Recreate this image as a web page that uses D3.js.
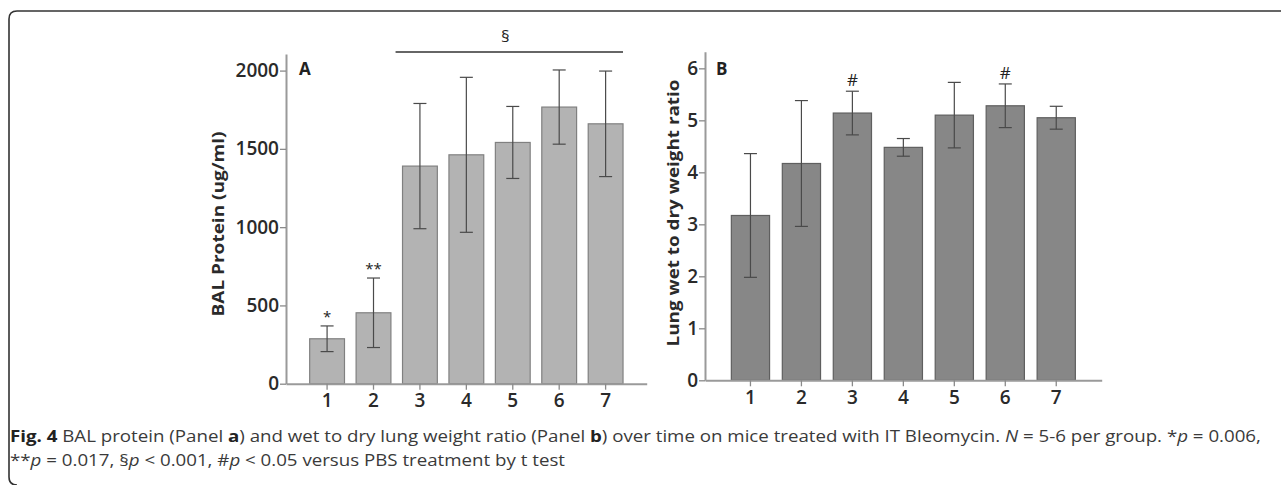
<!DOCTYPE html>
<html>
<head>
<meta charset="utf-8">
<script src="https://cdn.jsdelivr.net/npm/d3@7/dist/d3.min.js"></script>
<style>
  html, body { margin: 0; padding: 0; background: #fff; }
  svg { display: block; }
</style>
</head>
<body>
<svg id="chart" width="1281" height="485"></svg>
<script>
// ---- data ----
const categories = ["1", "2", "3", "4", "5", "6", "7"];
const balMean = [287, 453, 1390, 1462, 1541, 1767, 1660];
const balErr  = [82, 222, 400, 495, 230, 237, 337];
const balMarks = ["*", "**", "", "", "", "", ""];
const balTicks = [0, 500, 1000, 1500, 2000];

const ratioMean = [3.17, 4.17, 5.14, 4.48, 5.10, 5.28, 5.05];
const ratioErr  = [1.19, 1.21, 0.42, 0.17, 0.63, 0.42, 0.22];
const ratioMarks = ["", "", "#", "", "", "#", ""];
const ratioTicks = [0, 1, 2, 3, 4, 5, 6];

const balTitle = "BAL Protein (ug/ml)";
const ratioTitle = "Lung wet to dry weight ratio";

const svg = d3.select("#chart");
const FONT = "'Open Sans', 'DejaVu Sans', sans-serif";

// border (rounded frame)
svg.append("path")
  .attr("d", "M1285,11 L17,11 Q9,11 9,19 L9,477 Q9,485 17,485")
  .attr("fill", "none").attr("stroke", "#333").attr("stroke-width", 1.6);

function panel(opts) {
  const g = svg.append("g");
  const x = d3.scaleBand().domain(categories)
    .range([opts.x0, opts.x1]).paddingInner(opts.pi).paddingOuter(opts.po);
  const y = d3.scaleLinear().domain([0, opts.ymax]).range([opts.y0, opts.yTop]);
  const bw = x.bandwidth();
  const cx = c => x(c) + bw / 2;

  g.selectAll("rect.bar").data(categories).enter().append("rect")
    .attr("x", c => x(c)).attr("width", bw)
    .attr("y", (c, i) => y(opts.mean[i]))
    .attr("height", (c, i) => y(0) - y(opts.mean[i]))
    .attr("fill", opts.fill).attr("stroke", opts.stroke).attr("stroke-width", 1.2);

  const eg = g.append("g").attr("stroke", "#4a4a4a").attr("stroke-width", 1.2);
  categories.forEach((c, i) => {
    const hi = y(opts.mean[i] + opts.err[i]), lo = y(opts.mean[i] - opts.err[i]);
    eg.append("line").attr("x1", cx(c)).attr("x2", cx(c)).attr("y1", hi).attr("y2", lo);
    eg.append("line").attr("x1", cx(c) - 6.5).attr("x2", cx(c) + 6.5).attr("y1", hi).attr("y2", hi);
    eg.append("line").attr("x1", cx(c) - 6.5).attr("x2", cx(c) + 6.5).attr("y1", lo).attr("y2", lo);
    if (opts.marks[i]) {
      g.append("text").attr("x", cx(c)).attr("y", hi - opts.markGap)
        .attr("text-anchor", "middle").attr("font-family", FONT)
        .attr("font-size", opts.markSize).attr("fill", "#222").text(opts.marks[i]);
    }
  });

  const ya = g.append("g").attr("transform", `translate(${opts.x0},0)`)
    .call(d3.axisLeft(y).tickValues(opts.ticks).tickSize(6).tickSizeOuter(0).tickPadding(1)
      .tickFormat(d3.format("d")));
  ya.select(".domain").attr("stroke", "#9a9a9a").attr("stroke-width", 2);
  ya.selectAll(".tick line").attr("stroke", "#8a8a8a").attr("stroke-width", 1.3);
  ya.selectAll(".tick text").attr("font-family", FONT).attr("font-size", 19)
    .attr("font-weight", 600).attr("fill", "#2a2a2a");

  const xa = g.append("g").attr("transform", `translate(0,${opts.y0})`)
    .call(d3.axisBottom(x).tickSize(6).tickSizeOuter(0).tickPadding(4));
  xa.select(".domain").attr("stroke", "#9a9a9a").attr("stroke-width", 2);
  xa.selectAll(".tick line").attr("stroke", "#8a8a8a").attr("stroke-width", 1.3);
  xa.selectAll(".tick text").attr("font-family", FONT).attr("font-size", 19)
    .attr("font-weight", 600).attr("fill", "#2a2a2a");

  g.append("text")
    .attr("transform", `translate(${opts.titleX},${opts.titleY}) rotate(-90)`)
    .attr("text-anchor", "middle").attr("font-family", FONT).attr("font-size", 16)
    .attr("font-weight", 700).attr("fill", "#2a2a2a")
    .attr("textLength", opts.titleLen).attr("lengthAdjust", "spacingAndGlyphs")
    .text(opts.title);

  g.append("text").attr("x", opts.x0 + opts.letterDx).attr("y", opts.letterY)
    .attr("font-family", FONT).attr("font-size", 17).attr("font-weight", 700)
    .attr("fill", "#222").text(opts.letter);

  return { x, y, cx, bw, g };
}

const A = panel({
  x0: 286, x1: 646.7, pi: 0.25, po: 0.51,
  y0: 383.7, yTop: 54, ymax: 2106,
  mean: balMean, err: balErr, marks: balMarks, ticks: balTicks,
  fill: "#b3b3b3", stroke: "#808080",
  markGap: 4, markSize: 15,
  title: balTitle, titleX: 224, titleY: 224, titleLen: 185,
  letter: "A", letterDx: 13, letterY: 75
});

const B = panel({
  x0: 705, x1: 1101.7, pi: 0.25, po: 0.517,
  y0: 380.3, yTop: 51.7, ymax: 6.32,
  mean: ratioMean, err: ratioErr, marks: ratioMarks, ticks: ratioTicks,
  fill: "#878787", stroke: "#5f5f5f",
  markGap: 5, markSize: 17,
  title: ratioTitle, titleX: 679, titleY: 213, titleLen: 267,
  letter: "B", letterDx: 11, letterY: 75
});

// significance bracket over groups 3-7 in panel A
const sigX1 = A.cx("3") - A.bw * 0.7, sigX2 = A.x("7") + A.bw;
svg.append("line").attr("x1", sigX1).attr("x2", sigX2).attr("y1", 52).attr("y2", 52)
  .attr("stroke", "#333").attr("stroke-width", 1.4);
svg.append("text").attr("x", (sigX1 + sigX2) / 2 - 4).attr("y", 42)
  .attr("text-anchor", "middle").attr("font-family", FONT).attr("font-size", 17)
  .attr("fill", "#222").text("§");

// caption: natural-width text, horizontally condensed (same factor for both lines)
function captionLine(parts) {
  const g = svg.append("g").attr("font-family", FONT).attr("font-size", 16).attr("fill", "#3a3a3a");
  const t = g.append("text").attr("x", 0).attr("y", 0);
  parts.forEach(([s, st]) => {
    const ts = t.append("tspan").text(s);
    if (st === "b") ts.attr("font-weight", 700).attr("fill", "#222");
    if (st === "i") ts.attr("font-style", "italic");
  });
  return { g, w: t.node().getComputedTextLength() };
}
const cap1 = captionLine([["Fig. 4", "b"], [" BAL protein (Panel ", ""], ["a", "b"], [") and wet to dry lung weight ratio (Panel ", ""],
 ["b", "b"], [") over time on mice treated with IT Bleomycin. ", ""], ["N", "i"], [" = 5-6 per group. *", ""],
 ["p", "i"], [" = 0.006,", ""]]);
const cap2 = captionLine([["**", ""], ["p", "i"], [" = 0.017, §", ""], ["p", "i"], [" < 0.001, #", ""], ["p", "i"],
 [" < 0.05 versus PBS treatment by t test", ""]]);
const kCap = 1252 / cap1.w;
cap1.g.attr("transform", `translate(10,442) scale(${kCap},1)`);
cap2.g.attr("transform", `translate(10,466) scale(${kCap},1)`);
</script>
</body>
</html>
